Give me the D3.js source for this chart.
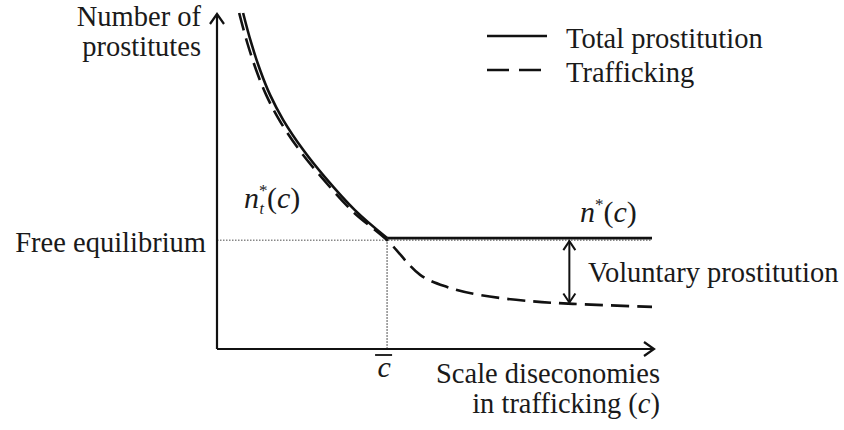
<!DOCTYPE html>
<html>
<head>
<meta charset="utf-8">
<script src="https://cdn.jsdelivr.net/npm/d3@7"></script>
<style>
  body { margin: 0; background: #fff; }
  text { font-family: "Liberation Serif", "Times New Roman", serif; fill: #1a1a1a; }
</style>
</head>
<body>
<script>
// values (arbitrary units, 0..10 on both axes)
let totalC   = [0.60, 0.78, 0.99, 1.22, 1.52, 1.98, 2.48, 3.17, 3.91, 10];
let totalN   = [9.97, 9.11, 8.28, 7.54, 6.80, 5.91, 5.10, 4.12, 3.29, 3.29];
let traffC   = [0.51, 0.69, 0.90, 1.13, 1.43, 1.89, 2.40, 3.12, 3.91, 4.67, 5.29, 6.05, 7.2, 8.18, 10];
let traffN   = [9.97, 9.11, 8.28, 7.54, 6.80, 5.91, 5.10, 4.08, 3.23, 2.20, 1.84, 1.60, 1.42, 1.34, 1.25];
let cBar = 3.91;
let freeEq = 3.26;
let voluntaryAt = 8.1;
let legendItems = ["Total prostitution", "Trafficking"];

let size = {width: 844, height: 430};
let svg = d3.select("body").append("svg")
    .attr("width", size.width).attr("height", size.height);

let x = d3.scaleLinear().domain([0, 10]).range([217, 652]);
let y = d3.scaleLinear().domain([0, 10]).range([349, 12]);

let smooth = d3.line().x(d => x(d[0])).y(d => y(d[1])).curve(d3.curveCatmullRom.alpha(0.5));
let straight = d3.line().x(d => x(d[0])).y(d => y(d[1]));
let total = d3.zip(totalC, totalN);
let traff = d3.zip(traffC, traffN);
let kink = total.findIndex(d => d[0] >= cBar);

// dotted guides
svg.append("line")
    .attr("x1", x(0)).attr("x2", x(10)).attr("y1", y(freeEq) + 1).attr("y2", y(freeEq) + 1)
    .attr("stroke", "#888").attr("stroke-width", 1.5).attr("stroke-dasharray", "1.5,1.5");
svg.append("line")
    .attr("x1", x(cBar)).attr("x2", x(cBar)).attr("y1", y(freeEq)).attr("y2", y(0))
    .attr("stroke", "#666").attr("stroke-width", 1.5).attr("stroke-dasharray", "1.5,1.5");

// axes with open arrowheads
let axis = svg.append("g").attr("stroke", "#111").attr("stroke-width", 2.2).attr("fill", "none");
axis.append("path").attr("d", `M${x(0)},${y(0)}V${y(10) + 2}`);
axis.append("path").attr("d", `M${x(0) - 7},${y(10) + 12}L${x(0)},${y(10) + 2}L${x(0) + 7},${y(10) + 12}`);
axis.append("path").attr("d", `M${x(0)},${y(0)}H${x(10) + 2}`);
axis.append("path").attr("d", `M${x(10) - 8},${y(0) - 7}L${x(10) + 2},${y(0)}L${x(10) - 8},${y(0) + 7}`);

// curves
svg.append("path").datum(traff).attr("d", smooth)
    .attr("fill", "none").attr("stroke", "#111").attr("stroke-width", 2.6)
    .attr("stroke-dasharray", "18,8");
svg.append("path").datum(total.slice(0, kink + 1)).attr("d", smooth)
    .attr("fill", "none").attr("stroke", "#111").attr("stroke-width", 2.6);
svg.append("path").datum(total.slice(kink)).attr("d", straight)
    .attr("fill", "none").attr("stroke", "#111").attr("stroke-width", 2.6);

// voluntary prostitution double arrow
let vx = x(voluntaryAt), vTop = y(freeEq) + 2, vBot = y(1.35) - 1;
let va = svg.append("g").attr("stroke", "#111").attr("stroke-width", 2).attr("fill", "none");
va.append("path").attr("d", `M${vx},${vTop}V${vBot}`);
va.append("path").attr("d", `M${vx - 6},${vTop + 9}L${vx},${vTop}L${vx + 6},${vTop + 9}`);
va.append("path").attr("d", `M${vx - 6},${vBot - 9}L${vx},${vBot}L${vx + 6},${vBot - 9}`);

// legend
let fs = 28.5;
let legend = svg.append("g");
legendItems.forEach((name, i) => {
  legend.append("line").attr("x1", 487).attr("x2", 547).attr("y1", 36 + i * 34).attr("y2", 36 + i * 34)
      .attr("stroke", "#111").attr("stroke-width", 2.6)
      .attr("stroke-dasharray", i === 1 ? "22,10" : null);
  legend.append("text").attr("x", 566).attr("y", 48 + i * 34).attr("font-size", fs).text(name);
});

// labels
svg.append("text").attr("x", 201).attr("y", 26).attr("text-anchor", "end").attr("font-size", fs).text("Number of");
svg.append("text").attr("x", 201).attr("y", 56).attr("text-anchor", "end").attr("font-size", fs).text("prostitutes");
svg.append("text").attr("x", 206).attr("y", 252).attr("text-anchor", "end").attr("font-size", fs).text("Free equilibrium");
svg.append("text").attr("x", 588).attr("y", 282).attr("font-size", fs).text("Voluntary prostitution");
svg.append("text").attr("x", 660).attr("y", 383).attr("text-anchor", "end").attr("font-size", fs).text("Scale diseconomies");
let t2 = svg.append("text").attr("x", 660).attr("y", 413).attr("text-anchor", "end").attr("font-size", fs);
t2.append("tspan").text("in trafficking (");
t2.append("tspan").attr("font-style", "italic").text("c");
t2.append("tspan").text(")");

// c-bar
svg.append("text").attr("x", x(cBar) - 3).attr("y", 377).attr("text-anchor", "middle")
    .attr("font-size", 30).attr("font-style", "italic").text("c");
svg.append("line").attr("x1", x(cBar) - 12).attr("x2", x(cBar) + 5).attr("y1", 355).attr("y2", 355)
    .attr("stroke", "#111").attr("stroke-width", 1.8);

// n*(c)
let n1 = svg.append("text").attr("x", 580).attr("y", 222).attr("font-size", 30);
n1.append("tspan").attr("font-style", "italic").text("n");
n1.append("tspan").attr("font-size", 17).attr("dy", -12).text("*");
n1.append("tspan").attr("dy", 12).text("(");
n1.append("tspan").attr("font-style", "italic").text("c");
n1.append("tspan").text(")");

// n_t*(c)
let n2 = svg.append("text").attr("x", 244).attr("y", 208).attr("font-size", 30);
n2.append("tspan").attr("font-style", "italic").text("n");
n2.append("tspan").attr("font-size", 17).attr("dy", -12).text("*");
n2.append("tspan").attr("font-size", 16).attr("font-style", "italic").attr("dx", -8).attr("dy", 18).text("t");
n2.append("tspan").attr("dy", -6).attr("dx", 3).text("(");
n2.append("tspan").attr("font-style", "italic").text("c");
n2.append("tspan").text(")");
</script>
</body>
</html>
